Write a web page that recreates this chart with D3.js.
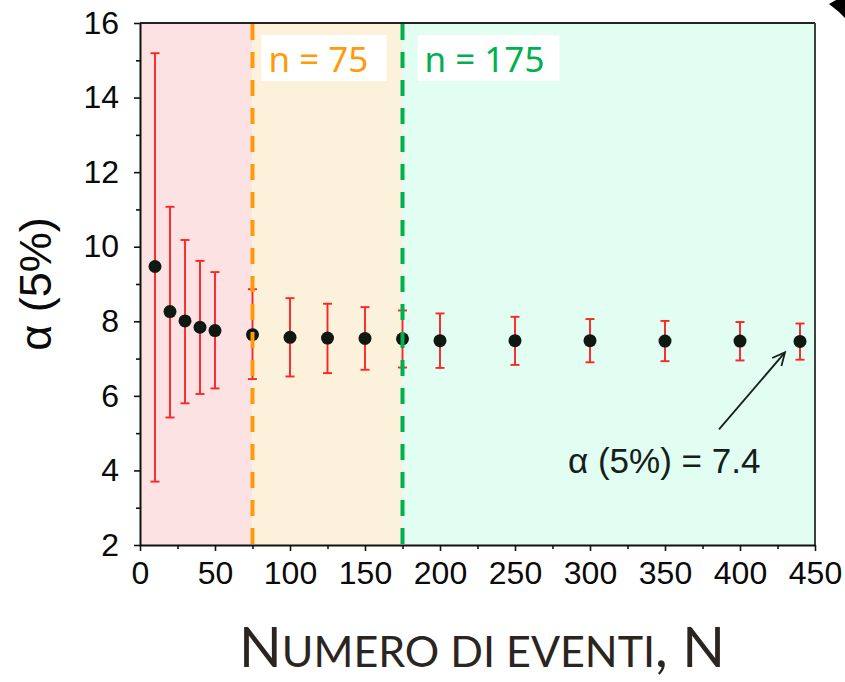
<!DOCTYPE html>
<html>
<head>
<meta charset="utf-8">
<script src="https://cdn.jsdelivr.net/npm/d3@7"></script>
<style>
  html, body { margin: 0; padding: 0; background: #fff; }
  svg { display: block; }
</style>
</head>
<body>
<svg id="chart" width="845" height="682"></svg>
<script>
// ---- data ----
const eventCounts = [10, 20, 30, 40, 50, 75, 100, 125, 150, 175, 200, 250, 300, 350, 400, 440];
const alphaValues = [9.47, 8.26, 8.01, 7.84, 7.75, 7.64, 7.57, 7.55, 7.54, 7.53, 7.48, 7.48, 7.48, 7.47, 7.47, 7.46];
const upperValues = [15.19, 11.07, 10.18, 9.62, 9.32, 8.86, 8.62, 8.47, 8.38, 8.29, 8.21, 8.12, 8.06, 8.01, 7.98, 7.94];
const lowerValues = [3.70, 5.42, 5.80, 6.05, 6.20, 6.45, 6.52, 6.61, 6.70, 6.76, 6.75, 6.83, 6.90, 6.93, 6.95, 6.97];
const xTicks = [0, 50, 100, 150, 200, 250, 300, 350, 400, 450];
const xMinorTicks = [25, 75, 125, 175, 225, 275, 325, 375, 425];
const yTicks = [2, 4, 6, 8, 10, 12, 14, 16];
const yMinorTicks = [3, 5, 7, 9, 11, 13, 15];
const regionBounds = [0, 75, 175, 450];
const regionColors = ["#fde2e4", "#fcf1da", "#e2fdf1"];
const thresholds = [75, 175];
const thresholdLabels = ["n = 75", "n = 175"];
const thresholdColors = ["#ff9a0a", "#00b04f"];
const annotationText = "\u03B1 (5%) = 7.4";
const annotationTarget = 440;

// ---- setup ----
const svg = d3.select("#chart");
const x = d3.scaleLinear().domain([0, 450]).range([140, 815]);
const y = d3.scaleLinear().domain([2, 16]).range([545, 23]);
const FONT = "'Liberation Sans', Arial, sans-serif";

// background regions
svg.append("g").selectAll("rect")
  .data(regionColors)
  .join("rect")
  .attr("x", (d, i) => x(regionBounds[i]))
  .attr("y", y(16))
  .attr("width", (d, i) => x(regionBounds[i + 1]) - x(regionBounds[i]))
  .attr("height", y(2) - y(16))
  .attr("fill", d => d);

// frame top & right
svg.append("line").attr("x1", x(0)).attr("x2", x(450)).attr("y1", y(16)).attr("y2", y(16))
  .attr("stroke", "#222").attr("stroke-width", 2);
svg.append("line").attr("x1", x(450)).attr("x2", x(450)).attr("y1", y(16)).attr("y2", y(2))
  .attr("stroke", "#3a443e").attr("stroke-width", 2);

// axes
svg.append("g").attr("transform", `translate(${x(0)},0)`)
  .call(d3.axisLeft(y).tickValues(yTicks).tickSize(6).tickSizeOuter(0).tickPadding(15));
svg.append("g").attr("transform", `translate(${x(0)},0)`)
  .call(d3.axisLeft(y).tickValues(yMinorTicks).tickSize(4).tickSizeOuter(0).tickFormat(""))
  .select(".domain").remove();
svg.append("g").attr("transform", `translate(0,${y(2)})`)
  .call(d3.axisBottom(x).tickValues(xTicks).tickSize(6).tickSizeOuter(0).tickPadding(10));
svg.append("g").attr("transform", `translate(0,${y(2)})`)
  .call(d3.axisBottom(x).tickValues(xMinorTicks).tickSize(4).tickSizeOuter(0).tickFormat(""))
  .select(".domain").remove();

svg.selectAll(".tick line").attr("stroke", "#111").attr("stroke-width", 1.6);
svg.selectAll(".domain").attr("stroke", "#111").attr("stroke-width", 2);
svg.selectAll(".tick text").attr("font-family", FONT).attr("font-size", 32).attr("fill", "#0a0a0a");

// error bars
const eb = svg.append("g").attr("stroke", "#ff2424").attr("stroke-width", 1.9);
eventCounts.forEach((n, i) => {
  const cx = x(n);
  eb.append("line").attr("x1", cx).attr("x2", cx).attr("y1", y(upperValues[i])).attr("y2", y(lowerValues[i]));
  eb.append("line").attr("x1", cx - 4.5).attr("x2", cx + 4.5).attr("y1", y(upperValues[i])).attr("y2", y(upperValues[i]));
  eb.append("line").attr("x1", cx - 4.5).attr("x2", cx + 4.5).attr("y1", y(lowerValues[i])).attr("y2", y(lowerValues[i]));
});

// points
svg.append("g").selectAll("circle")
  .data(eventCounts)
  .join("circle")
  .attr("cx", d => x(d))
  .attr("cy", (d, i) => y(alphaValues[i]))
  .attr("r", 6.5)
  .attr("fill", "#101812");

// threshold dashed lines
svg.append("g").selectAll("line")
  .data(thresholds)
  .join("line")
  .attr("x1", d => x(d)).attr("x2", d => x(d))
  .attr("y1", y(16) + 1).attr("y2", y(2))
  .attr("stroke", (d, i) => thresholdColors[i])
  .attr("stroke-width", 4)
  .attr("stroke-dasharray", "16 12");

// threshold label boxes
const boxW = [125, 142];
thresholds.forEach((t, i) => {
  const bx = x(t) + 9 + (i === 1 ? 6 : 0);
  svg.append("rect").attr("x", bx).attr("y", 35).attr("width", boxW[i]).attr("height", 46).attr("fill", "#fff");
  svg.append("text").attr("x", bx + 7).attr("y", 72)
    .attr("font-family", "'Noto Sans', 'Open Sans', sans-serif").attr("font-size", 35)
    .attr("fill", thresholdColors[i]).text(thresholdLabels[i]);
});

// annotation arrow
const tx = x(annotationTarget) - 15, ty = y(alphaValues[alphaValues.length - 1]) + 11;
const sx = tx - 66, sy = ty + 77;
const ang = Math.atan2(ty - sy, tx - sx);
const ah = 14, aw = 0.45;
svg.append("line").attr("x1", sx).attr("y1", sy).attr("x2", tx).attr("y2", ty)
  .attr("stroke", "#14201a").attr("stroke-width", 1.8);
svg.append("path")
  .attr("d", `M${tx - ah * Math.cos(ang - aw)},${ty - ah * Math.sin(ang - aw)} L${tx},${ty} L${tx - ah * Math.cos(ang + aw)},${ty - ah * Math.sin(ang + aw)}`)
  .attr("fill", "none").attr("stroke", "#14201a").attr("stroke-width", 1.8);
svg.append("text").attr("x", 568).attr("y", 473)
  .attr("font-family", FONT).attr("font-size", 35).attr("fill", "#14201a")
  .text(annotationText);

// y-axis title
svg.append("text")
  .attr("transform", "translate(51,284) rotate(-90)")
  .attr("text-anchor", "middle")
  .attr("font-family", FONT).attr("font-size", 45).attr("fill", "#0a0a0a")
  .text("\u03B1 (5%)");

// x-axis title (small caps style)
const xt = svg.append("text").attr("x", 482).attr("y", 667).attr("text-anchor", "middle")
  .attr("font-family", "Lato, 'Open Sans', sans-serif").attr("font-weight", 400)
  .attr("fill", "#2a2520");
xt.append("tspan").attr("font-size", 56).text("N");
xt.append("tspan").attr("font-size", 43).text("UMERO DI EVENTI");
xt.append("tspan").attr("font-size", 56).text(", N");

// corner artifact
svg.append("path").attr("d", "M829,4 L836,0 L845,0 L845,18 L839,12 Z").attr("fill", "#000");
</script>
</body>
</html>
